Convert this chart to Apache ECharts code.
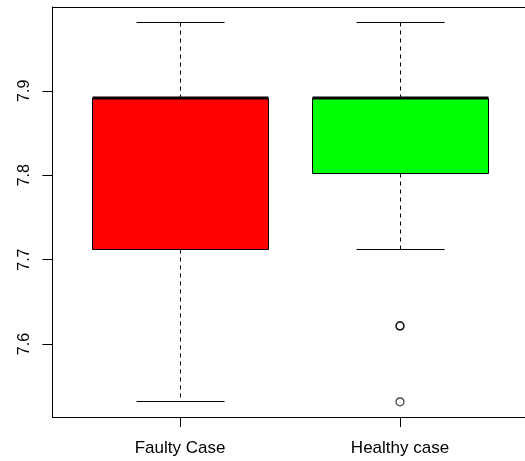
<!DOCTYPE html>
<html>
<head>
<meta charset="utf-8">
<script src="https://cdn.jsdelivr.net/npm/echarts@6/dist/echarts.min.js"></script>
<style>
  html, body { margin: 0; padding: 0; background: #fff; }
  #chart { width: 525px; height: 461px; }
</style>
</head>
<body>
<div id="chart"></div>
<script>
// Box statistics for each group
var categories = ['Faulty Case', 'Healthy case'];
var lowerWhisker = [7.5316, 7.7115];
var lowerQuartile = [7.7115, 7.8018];
var medians = [7.8914, 7.8914];
var upperQuartile = [7.8914, 7.8914];
var upperWhisker = [7.9813, 7.9813];
var boxColors = ['#FF0000', '#00FF00'];
// Outlying points: [group index, value]
var outlierGroup = [1, 1, 1];
var outlierValue = [7.6215, 7.6215, 7.5316];
// Axis ticks
var yTicks = [7.6, 7.7, 7.8, 7.9];

var boxData = categories.map(function (c, i) {
  return [i + 1, lowerWhisker[i], lowerQuartile[i], medians[i], upperQuartile[i], upperWhisker[i]];
});
var outlierData = outlierGroup.map(function (g, i) { return [g + 1, outlierValue[i]]; });

var BOX_W = 0.8, CAP_W = 0.4;
// x range: groups at 1..n with half-unit padding, extended 4% each side;
// the plot runs past the right edge of the canvas, so it is clipped there
var X_MIN = 0.42, PX_PER_UNIT = 220, GRID_LEFT = 52.4, GRID_WIDTH = 525 - 52.4;
var X_MAX = X_MIN + GRID_WIDTH / PX_PER_UNIT;

// snap a 1px line to the pixel grid so it stays crisp
function crisp(v) { return Math.floor(v) + 0.5; }

function renderBox(params, api) {
  var x = api.value(0);
  var lo = api.coord([x, api.value(1)]);
  var q1 = api.coord([x, api.value(2)]);
  var md = api.coord([x, api.value(3)]);
  var q3 = api.coord([x, api.value(4)]);
  var hi = api.coord([x, api.value(5)]);
  var half = api.size([BOX_W, 0])[0] / 2;
  var cap = api.size([CAP_W, 0])[0] / 2;
  var cx = crisp(lo[0]);
  var yLo = crisp(lo[1]), yHi = crisp(hi[1]), yQ1 = crisp(q1[1]), yQ3 = crisp(q3[1]);
  var left = crisp(cx - half), right = crisp(cx + half);
  var fill = boxColors[params.dataIndex];
  var dashStyle = { stroke: '#000', lineWidth: 1, lineDash: [4, 4], fill: null };
  var solid = { stroke: '#000', lineWidth: 1, fill: null };
  return {
    type: 'group',
    children: [
      { type: 'line', shape: { x1: cx, y1: yQ3, x2: cx, y2: yHi }, style: dashStyle },
      { type: 'line', shape: { x1: cx, y1: yQ1, x2: cx, y2: yLo }, style: dashStyle },
      { type: 'line', shape: { x1: cx - cap, y1: yHi, x2: cx + cap, y2: yHi }, style: solid },
      { type: 'line', shape: { x1: cx - cap, y1: yLo, x2: cx + cap, y2: yLo }, style: solid },
      { type: 'rect', shape: { x: left, y: yQ3, width: right - left, height: yQ1 - yQ3 },
        style: { fill: fill, stroke: '#000', lineWidth: 1 } },
      { type: 'line', shape: { x1: left, y1: Math.round(md[1]), x2: right, y2: Math.round(md[1]) },
        style: { stroke: '#000', lineWidth: 3 } }
    ]
  };
}

var chart = echarts.init(document.getElementById('chart'), null, { renderer: 'canvas' });
var fontFamily = 'Liberation Sans, Arial, sans-serif';
var axisLineStyle = { color: '#000', width: 1 };

chart.setOption({
  animation: false,
  backgroundColor: '#fff',
  grid: { left: GRID_LEFT, top: 7, width: GRID_WIDTH, height: 410 },
  xAxis: [
    {
      type: 'value', min: X_MIN, max: X_MAX, position: 'bottom',
      axisLine: { show: true, onZero: false, lineStyle: axisLineStyle },
      splitLine: { show: false },
      axisTick: { show: true, length: 10, customValues: [1, 2], lineStyle: { color: '#000' } },
      axisLabel: {
        customValues: [1, 2], margin: 23,
        fontFamily: fontFamily, fontSize: 17, color: '#000',
        formatter: function (v) { return categories[Math.round(v) - 1] || ''; }
      }
    },
    {
      // top edge of the plot frame
      type: 'value', min: X_MIN, max: X_MAX, position: 'top',
      axisLine: { show: true, onZero: false, lineStyle: axisLineStyle },
      splitLine: { show: false }, axisTick: { show: false }, axisLabel: { show: false }
    }
  ],
  yAxis: {
    type: 'value', min: 7.5136, max: 7.9993,
    axisLine: { show: true, onZero: false, lineStyle: axisLineStyle },
    splitLine: { show: false },
    axisTick: { show: true, length: 10, customValues: yTicks, lineStyle: { color: '#000' } },
    axisLabel: {
      customValues: yTicks, rotate: 90, margin: 20,
      fontFamily: fontFamily, fontSize: 16, color: '#000',
      formatter: function (v) { return v.toFixed(1); }
    }
  },
  series: [
    {
      type: 'custom',
      renderItem: renderBox,
      encode: { x: 0, y: [1, 2, 3, 4, 5] },
      data: boxData,
      z: 2
    },
    {
      type: 'scatter',
      data: outlierData,
      symbol: 'circle',
      symbolSize: 8,
      itemStyle: { color: 'rgba(0,0,0,0)', borderColor: '#000', borderWidth: 1.2 },
      z: 3
    }
  ]
});
</script>
</body>
</html>
